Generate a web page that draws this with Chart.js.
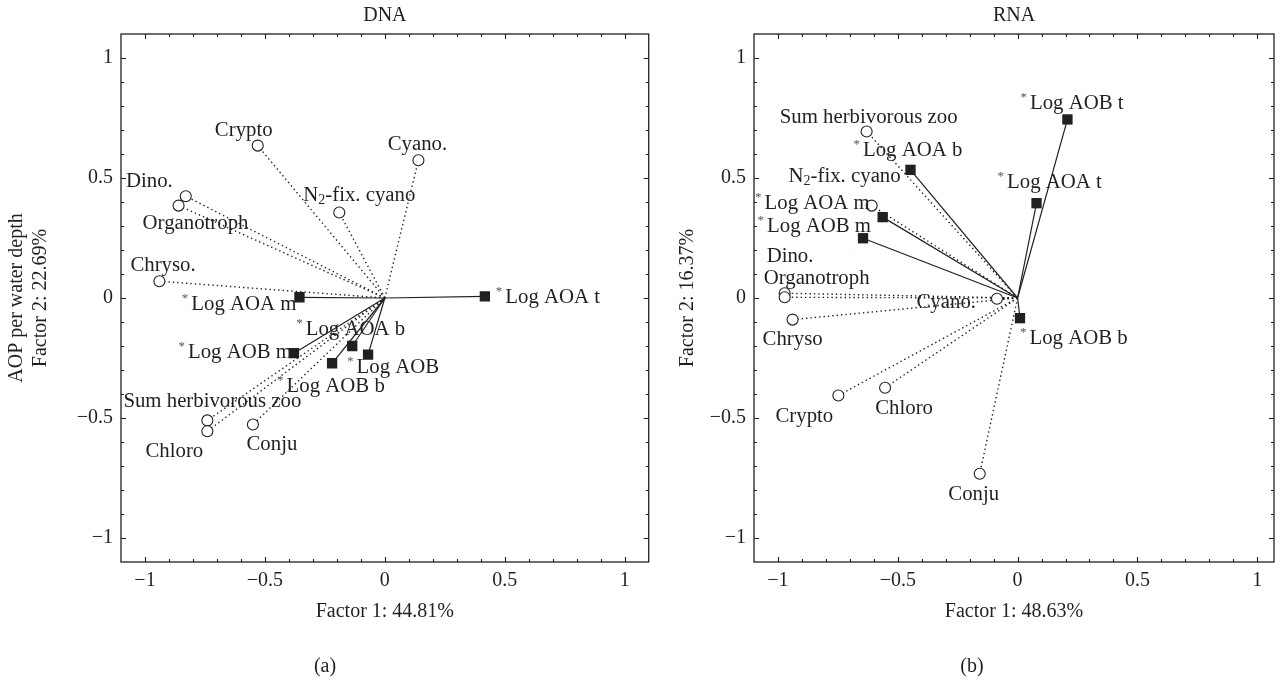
<!DOCTYPE html>
<html><head><meta charset="utf-8">
<script src="https://cdn.jsdelivr.net/npm/chart.js@4.4.1/dist/chart.umd.min.js"></script>
<style>
html,body{margin:0;padding:0;background:#fff;width:1282px;height:686px;overflow:hidden}
#c1{position:absolute;left:0;top:0;width:656px;height:686px}
#c2{position:absolute;left:670px;top:0;width:612px;height:686px}
</style></head><body>
<canvas id="c1" width="656" height="686"></canvas>
<canvas id="c2" width="612" height="686"></canvas>
<script>
// ---------- data ----------
const tickValues = [-1, -0.5, 0, 0.5, 1];
const tickLabels = ['\u22121', '\u22120.5', '0', '0.5', '1'];

// (a) DNA
const dnaSpeciesNames = ['Crypto', 'Cyano.', 'Dino.', 'Organotroph', 'N_2-fix. cyano', 'Chryso.', 'Sum herbivorous zoo', 'Chloro', 'Conju'];
const dnaSpeciesX = [-0.53, 0.14, -0.83, -0.86, -0.19, -0.94, -0.74, -0.74, -0.55];
const dnaSpeciesY = [0.635, 0.574, 0.424, 0.385, 0.356, 0.07, -0.51, -0.555, -0.527];
const dnaAmoNames = ['*Log AOA m', '*Log AOA t', '*Log AOA b', '*Log AOB m', '*Log AOB', '*Log AOB b'];
const dnaAmoX = [-0.356, 0.417, -0.136, -0.379, -0.07, -0.22];
const dnaAmoY = [0.003, 0.007, -0.2, -0.23, -0.236, -0.272];

// (b) RNA
const rnaSpeciesNames = ['Sum herbivorous zoo', 'N_2-fix. cyano', 'Dino.', 'Organotroph', 'Cyano.', 'Chryso', 'Crypto', 'Chloro', 'Conju'];
const rnaSpeciesX = [-0.63, -0.609, -0.972, -0.972, -0.086, -0.939, -0.748, -0.553, -0.158];
const rnaSpeciesY = [0.694, 0.385, 0.02, 0.003, -0.003, -0.09, -0.406, -0.374, -0.732];
const rnaAmoNames = ['*Log AOB t', '*Log AOA b', '*Log AOA t', '*Log AOA m', '*Log AOB m', '*Log AOB b'];
const rnaAmoX = [0.208, -0.447, 0.079, -0.563, -0.645, 0.01];
const rnaAmoY = [0.744, 0.534, 0.395, 0.337, 0.249, -0.084];

// ---------- label placement (style, not data) ----------
const dnaSpeciesLabelPos = [
  {a:'center',dx:-14,dy:-15},{a:'center',dx:-1,dy:-16},{a:'right',dx:-13,dy:-15},
  {a:'left',dx:-36,dy:18},{a:'left',dx:-36,dy:-17},{a:'left',dx:-29,dy:-16},
  {a:'center',dx:5,dy:-19},{a:'center',dx:-33,dy:20},{a:'center',dx:19,dy:20}];
const dnaAmoLabelPos = [
  {a:'right',dx:-3,dy:7},{a:'left',dx:11,dy:1},{a:'left',dx:-56,dy:-16},
  {a:'right',dx:-2,dy:-1},{a:'left',dx:-21,dy:13},{a:'left',dx:-55,dy:23}];
const rnaSpeciesLabelPos = [
  {a:'center',dx:2,dy:-14},{a:'right',dx:29,dy:-29},{a:'left',dx:-18,dy:-37},
  {a:'left',dx:-21,dy:-19},{a:'right',dx:-21,dy:4},{a:'center',dx:0,dy:20},
  {a:'center',dx:-34,dy:21},{a:'center',dx:19,dy:21},{a:'center',dx:-6,dy:21}];
const rnaAmoLabelPos = [
  {a:'left',dx:-47,dy:-16},{a:'left',dx:-57,dy:-19},{a:'left',dx:-39,dy:-21},
  {a:'right',dx:-13,dy:-14},{a:'right',dx:8,dy:-12},{a:'left',dx:0,dy:20}];

const FAMILY = '"Liberation Serif", "DejaVu Serif", serif';
const INK = '#231f20';
const FS = 20;      // axis text
const LFS = 20.8;   // point labels

function drawRich(ctx, text, x, y, align) {
  const segs = [];
  let i = 0;
  if (text[0] === '*') { segs.push({t:'*', k:'star'}); i = 1; }
  let buf = '';
  for (; i < text.length; i++) {
    if (text[i] === '_') {
      if (buf) { segs.push({t:buf, k:'n'}); buf = ''; }
      segs.push({t:text[i+1], k:'sub'}); i++;
    } else buf += text[i];
  }
  if (buf) segs.push({t:buf, k:'n'});
  const fontOf = k => (k === 'n' ? LFS : (k === 'sub' ? 14 : 13)) + 'px ' + FAMILY;
  let total = 0;
  segs.forEach(s => { ctx.font = fontOf(s.k); s.w = ctx.measureText(s.t).width + (s.k === 'star' ? 3 : 0); total += s.w; });
  let sx = align === 'left' ? x : (align === 'right' ? x - total : x - total / 2);
  ctx.textAlign = 'left';
  ctx.textBaseline = 'middle';
  segs.forEach(s => {
    ctx.font = fontOf(s.k);
    ctx.fillStyle = s.k === 'star' ? '#555' : INK;
    const yy = s.k === 'star' ? y - 6 : (s.k === 'sub' ? y + 5 : y);
    ctx.fillText(s.t, sx, yy);
    sx += s.w;
  });
}

function makeLabelPlugin(groups) {
  return {
    id: 'pointLabels',
    afterDatasetsDraw(chart) {
      const ctx = chart.ctx, sx = chart.scales.x, sy = chart.scales.y;
      ctx.save();
      groups.forEach(g => {
        g.names.forEach((n, i) => {
          const px = sx.getPixelForValue(g.xs[i]);
          const py = sy.getPixelForValue(g.ys[i]);
          const p = g.pos[i];
          drawRich(ctx, n, px + p.dx, py + p.dy, p.a);
        });
      });
      ctx.restore();
    }
  };
}

const framePlugin = {
  id: 'frameTicks',
  afterDraw(chart) {
    const ctx = chart.ctx, a = chart.chartArea, sx = chart.scales.x, sy = chart.scales.y;
    ctx.save();
    ctx.strokeStyle = INK;
    ctx.lineWidth = 1.3;
    ctx.strokeRect(a.left, a.top, a.right - a.left, a.bottom - a.top);
    ctx.lineWidth = 1.1;
    ctx.beginPath();
    for (let k = -12; k <= 12; k++) {
      const v = k / 10;
      const len = (k % 5 === 0) ? 5 : 3;
      if (v > sx.min + 0.01 && v < sx.max - 0.01) {
        const x = Math.round(sx.getPixelForValue(v)) + 0.5;
        ctx.moveTo(x, a.top); ctx.lineTo(x, a.top + len);
        ctx.moveTo(x, a.bottom); ctx.lineTo(x, a.bottom - len);
      }
      if (v > sy.min + 0.01 && v < sy.max - 0.01) {
        const y = Math.round(sy.getPixelForValue(v)) + 0.5;
        ctx.moveTo(a.left, y); ctx.lineTo(a.left + len, y);
        ctx.moveTo(a.right, y); ctx.lineTo(a.right - len, y);
      }
    }
    ctx.stroke();
    ctx.restore();
  }
};

function buildDatasets(spX, spY, amX, amY) {
  const ds = [];
  spX.forEach((x, i) => ds.push({data:[{x:0,y:0},{x:x,y:spY[i]}], showLine:true, borderColor:INK, borderWidth:1.4, borderDash:[1.4,3], pointRadius:0, order:3}));
  amX.forEach((x, i) => ds.push({data:[{x:0,y:0},{x:x,y:amY[i]}], showLine:true, borderColor:INK, borderWidth:1.2, pointRadius:0, order:2}));
  ds.push({data: spX.map((x, i) => ({x:x, y:spY[i]})), pointStyle:'circle', pointRadius:5.5, backgroundColor:'#fff', borderColor:INK, borderWidth:1.1, order:1});
  ds.push({data: amX.map((x, i) => ({x:x, y:amY[i]})), pointStyle:'rect', pointRadius:7.3, backgroundColor:INK, borderColor:INK, borderWidth:0, order:0});
  return ds;
}

function tickCb(value) { const i = tickValues.indexOf(value); return i >= 0 ? tickLabels[i] : ''; }

function makeChart(canvas, cfg) {
  const font = {family: FAMILY, size: FS, weight: 'normal'};
  return new Chart(canvas, {
    type: 'scatter',
    data: {datasets: buildDatasets(cfg.spX, cfg.spY, cfg.amX, cfg.amY)},
    options: {
      responsive: false, animation: false,
      layout: {padding: {left: 0, right: cfg.padRight, top: 0, bottom: 0}},
      plugins: {
        legend: {display: false}, tooltip: {enabled: false},
        title: {display: true, text: cfg.title, fullSize: false, font: font, color: INK, padding: {top: 4, bottom: 6}},
        subtitle: {display: true, text: cfg.panel, position: 'bottom', font: font, color: INK, padding: {top: 29, bottom: 7}}
      },
      scales: {
        x: {
          type: 'linear', min: cfg.xmin, max: cfg.xmax,
          afterBuildTicks: s => { s.ticks = tickValues.map(v => ({value: v})); },
          afterFit: s => { s.height = 64; },
          ticks: {callback: tickCb, font: font, color: INK, padding: 7, maxRotation: 0, autoSkip: false},
          grid: {display: false, drawTicks: false}, border: {display: false},
          title: {display: true, text: cfg.xTitle, font: font, color: INK, padding: {top: 0, bottom: 2}}
        },
        y: {
          type: 'linear', min: -1.1, max: 1.1,
          afterBuildTicks: s => { s.ticks = tickValues.map(v => ({value: v})); },
          afterFit: s => { s.width = cfg.yWidth; },
          ticks: {callback: tickCb, font: font, color: INK, padding: 8, autoSkip: false},
          grid: {display: false, drawTicks: false}, border: {display: false},
          title: {display: true, text: cfg.yTitle, font: font, color: INK, padding: {top: cfg.yTitlePad, bottom: 0}}
        }
      }
    },
    plugins: [framePlugin, makeLabelPlugin(cfg.groups)]
  });
}

makeChart(document.getElementById('c1'), {
  title: 'DNA', panel: '(a)', xTitle: 'Factor 1: 44.81%',
  yTitle: ['AOP per water depth', 'Factor 2: 22.69%'], yTitlePad: 5,
  yWidth: 121, padRight: 6, xmin: -1.1, xmax: 1.1,
  spX: dnaSpeciesX, spY: dnaSpeciesY, amX: dnaAmoX, amY: dnaAmoY,
  groups: [
    {names: dnaSpeciesNames, xs: dnaSpeciesX, ys: dnaSpeciesY, pos: dnaSpeciesLabelPos},
    {names: dnaAmoNames, xs: dnaAmoX, ys: dnaAmoY, pos: dnaAmoLabelPos}
  ]
});

makeChart(document.getElementById('c2'), {
  title: 'RNA', panel: '(b)', xTitle: 'Factor 1: 48.63%',
  yTitle: 'Factor 2: 16.37%', yTitlePad: 6,
  yWidth: 84, padRight: 8, xmin: -1.1, xmax: 1.07,
  spX: rnaSpeciesX, spY: rnaSpeciesY, amX: rnaAmoX, amY: rnaAmoY,
  groups: [
    {names: rnaSpeciesNames, xs: rnaSpeciesX, ys: rnaSpeciesY, pos: rnaSpeciesLabelPos},
    {names: rnaAmoNames, xs: rnaAmoX, ys: rnaAmoY, pos: rnaAmoLabelPos}
  ]
});
</script>
</body></html>
